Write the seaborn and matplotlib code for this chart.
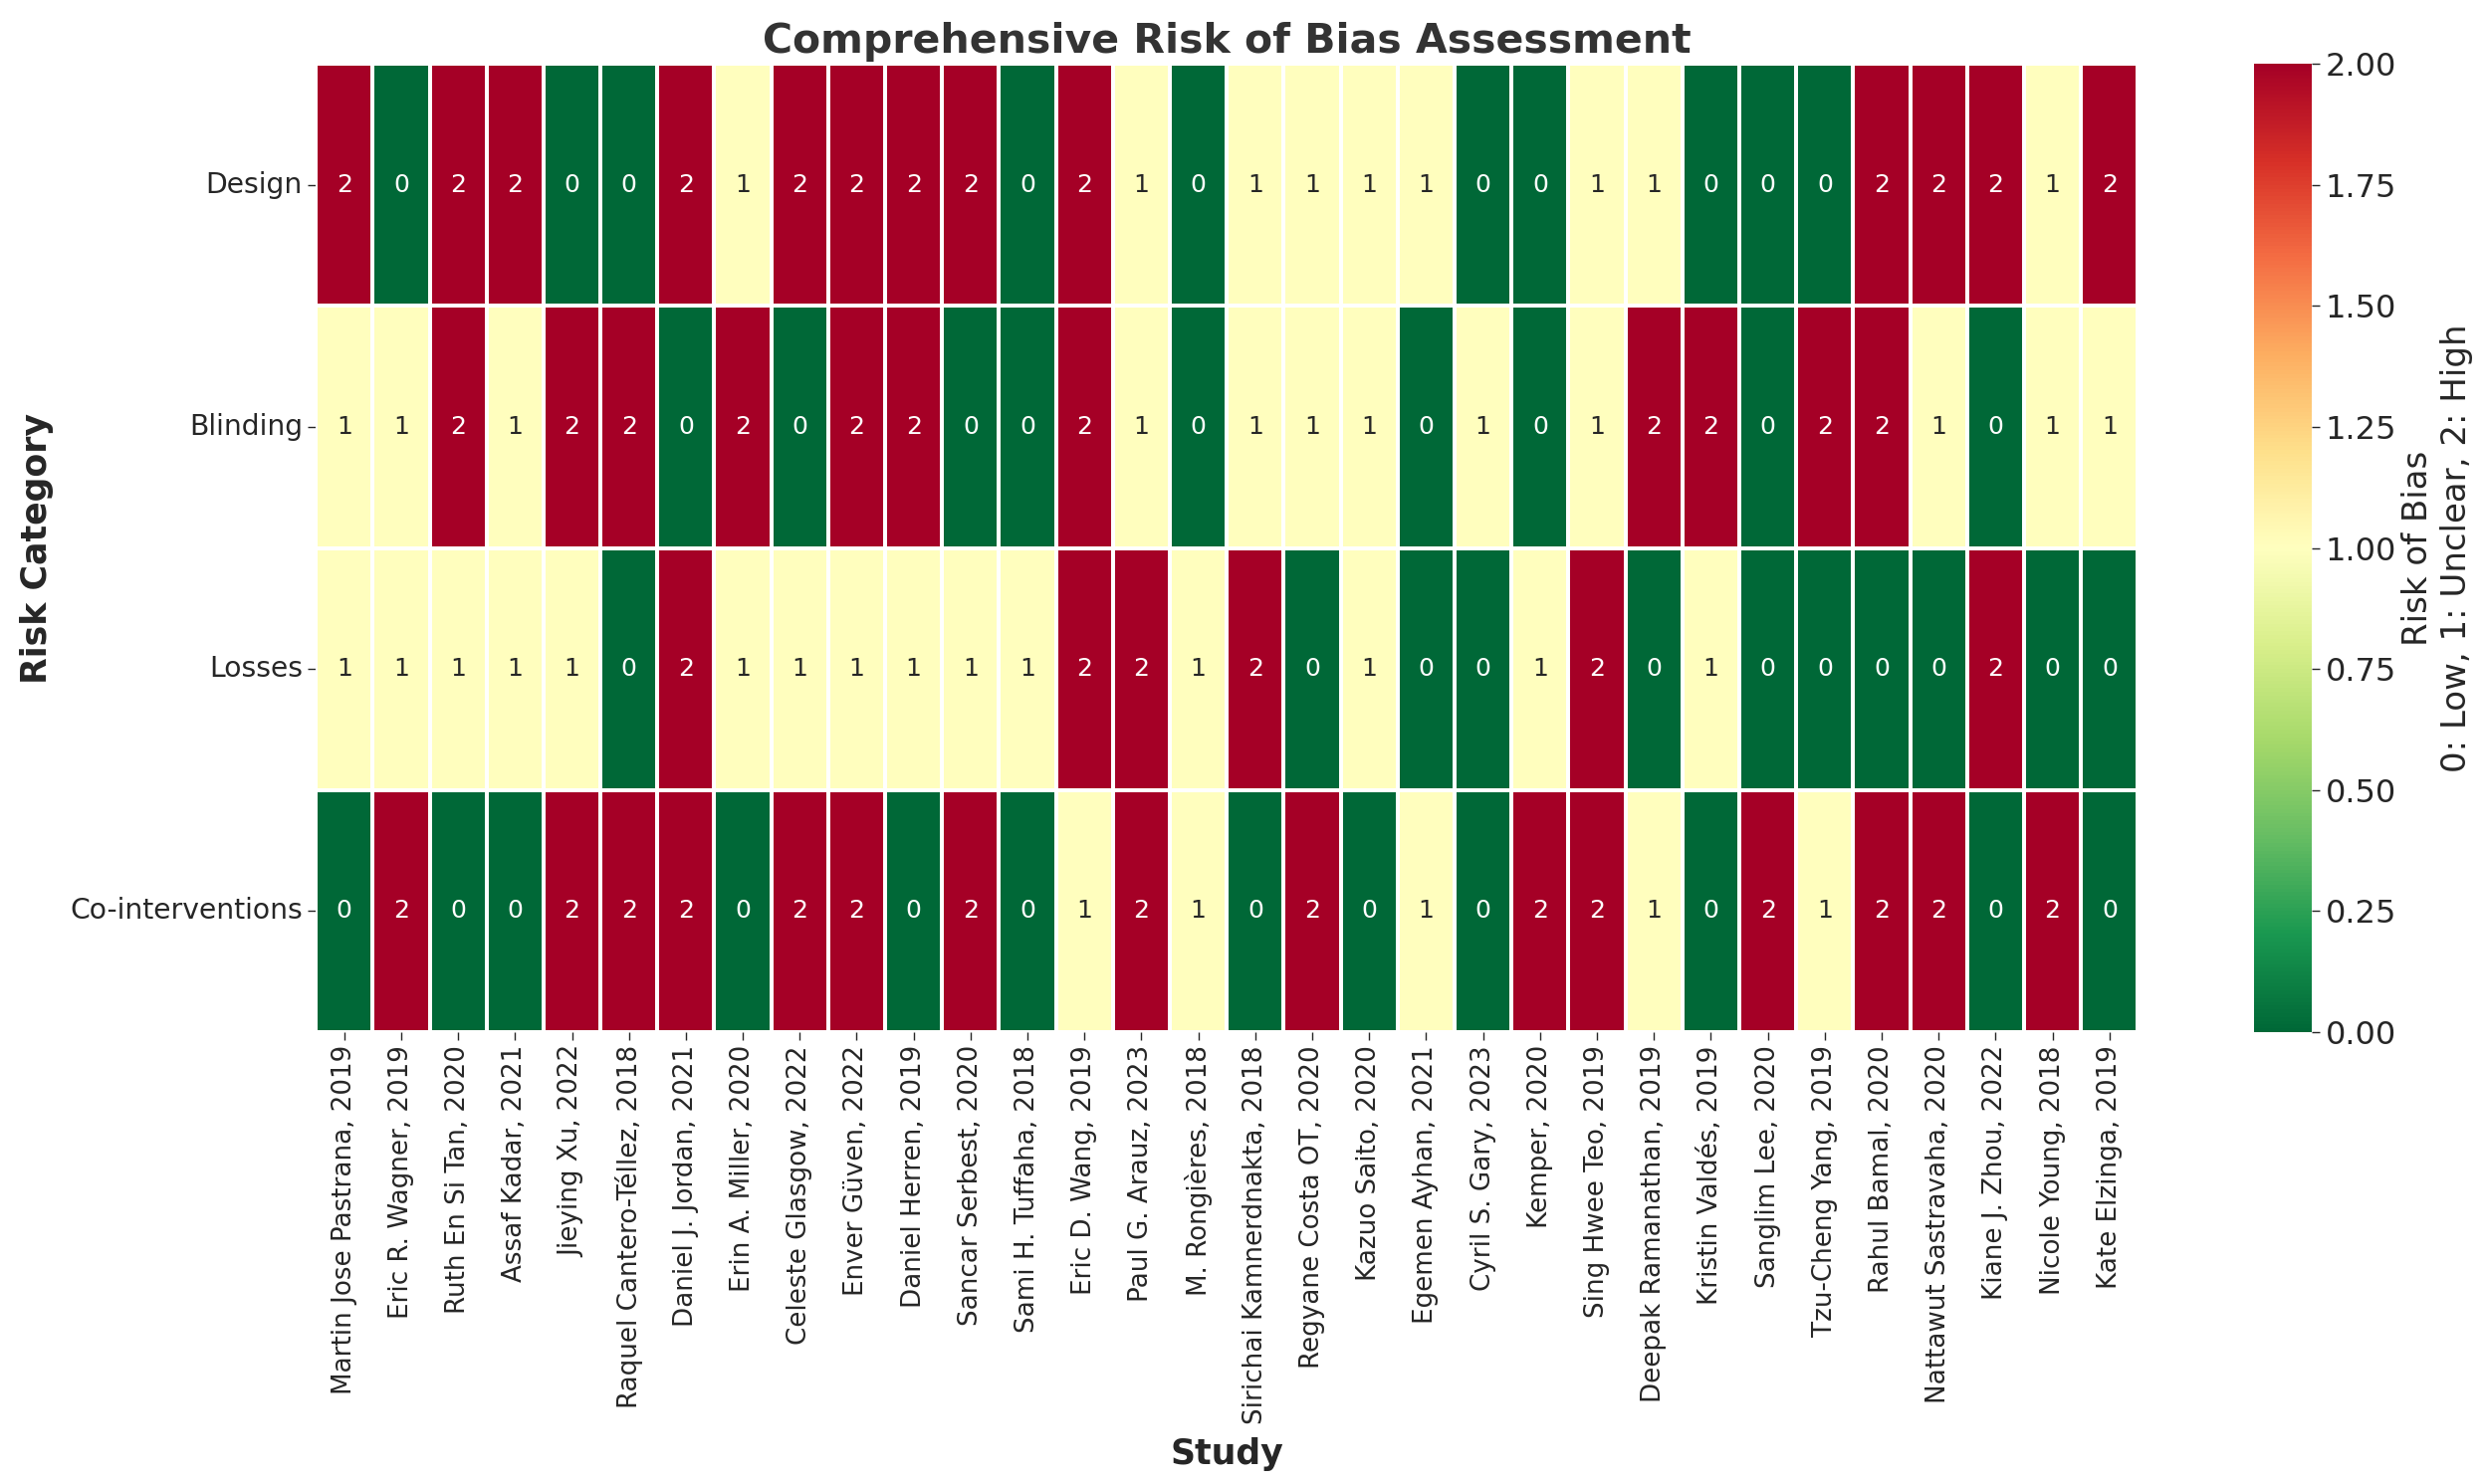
import numpy as np
import pandas as pd
import matplotlib
matplotlib.use("Agg")
import matplotlib.pyplot as plt
import seaborn as sns

studies = [
    "Martin Jose Pastrana, 2019", "Eric R. Wagner, 2019", "Ruth En Si Tan, 2020",
    "Assaf Kadar, 2021", "Jieying Xu, 2022", "Raquel Cantero-Téllez, 2018",
    "Daniel J. Jordan, 2021", "Erin A. Miller, 2020", "Celeste Glasgow, 2022",
    "Enver Güven, 2022", "Daniel Herren, 2019", "Sancar Serbest, 2020",
    "Sami H. Tuffaha, 2018", "Eric D. Wang, 2019", "Paul G. Arauz, 2023",
    "M. Rongières, 2018", "Sirichai Kamnerdnakta, 2018", "Regyane Costa OT, 2020",
    "Kazuo Saito, 2020", "Egemen Ayhan, 2021", "Cyril S. Gary, 2023",
    "Kemper, 2020", "Sing Hwee Teo, 2019", "Deepak Ramanathan, 2019",
    "Kristin Valdés, 2019", "Sanglim Lee, 2020", "Tzu-Cheng Yang, 2019",
    "Rahul Bamal, 2020", "Nattawut Sastravaha, 2020", "Kiane J. Zhou, 2022",
    "Nicole Young, 2018", "Kate Elzinga, 2019",
]
categories = ["Design", "Blinding", "Losses", "Co-interventions"]

design = [2, 0, 2, 2, 0, 0, 2, 1, 2, 2, 2, 2, 0, 2, 1, 0, 1, 1, 1, 1, 0, 0, 1, 1, 0, 0, 0, 2, 2, 2, 1, 2]
blinding = [1, 1, 2, 1, 2, 2, 0, 2, 0, 2, 2, 0, 0, 2, 1, 0, 1, 1, 1, 0, 1, 0, 1, 2, 2, 0, 2, 2, 1, 0, 1, 1]
losses = [1, 1, 1, 1, 1, 0, 2, 1, 1, 1, 1, 1, 1, 2, 2, 1, 2, 0, 1, 0, 0, 1, 2, 0, 1, 0, 0, 0, 0, 2, 0, 0]
cointerventions = [0, 2, 0, 0, 2, 2, 2, 0, 2, 2, 0, 2, 0, 1, 2, 1, 0, 2, 0, 1, 0, 2, 2, 1, 0, 2, 1, 2, 2, 0, 2, 0]

df = pd.DataFrame([design, blinding, losses, cointerventions], index=categories, columns=studies)

sns.set_style("white")
plt.rcParams['font.family'] = ['DejaVu Sans']
text_color = '#262626'

fig = plt.figure(figsize=(24.97, 14.91), dpi=100)
ax = fig.add_axes([0.127, 0.3045, 0.733, 0.6525])
cax = fig.add_axes([0.9067, 0.3045, 0.0233, 0.6525])

sns.heatmap(df, ax=ax, cbar_ax=cax, cmap="RdYlGn_r", vmin=0, vmax=2,
            annot=True, fmt="d", annot_kws={"size": 18},
            linewidths=1.5, linecolor="white",
            cbar_kws={"label": "Risk of Bias\n0: Low, 1: Unclear, 2: High"})

ax.set_title("Comprehensive Risk of Bias Assessment", fontsize=29.5, fontweight="bold",
             color='#333333', pad=8)
ax.set_xlabel("Study", fontsize=25, fontweight="bold", color=text_color, labelpad=10)
ax.set_ylabel("Risk Category", fontsize=25, fontweight="bold", color=text_color, labelpad=12)
ax.tick_params(axis='x', labelsize=18.8, rotation=90, length=6, width=1, colors=text_color, bottom=True)
ax.tick_params(axis='y', labelsize=20.3, rotation=0, length=6, width=1, colors=text_color, left=True)

cax.tick_params(labelsize=23, length=6, width=1, colors=text_color, right=True)
cax.yaxis.label.set_size(24.5)
cax.yaxis.label.set_color(text_color)

fig.savefig("out.png", dpi=100)
